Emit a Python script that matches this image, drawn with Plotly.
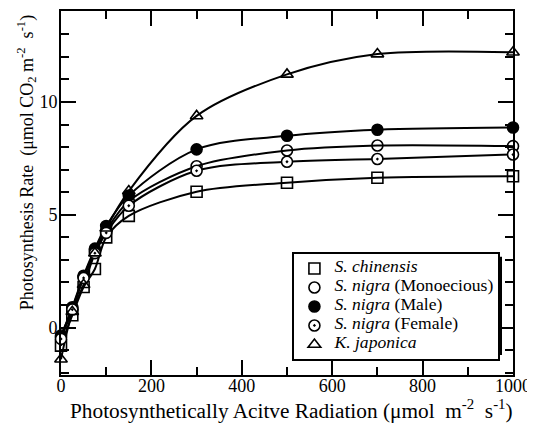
import plotly.graph_objects as go

# ---- data ----
par = [0, 25, 50, 75, 100, 150, 300, 500, 700, 1000]
s_chinensis = [-0.8, 0.55, 1.8, 2.6, 4.0, 4.95, 6.02, 6.42, 6.64, 6.71]
s_nigra_mono = [-0.35, 0.85, 2.25, 3.4, 4.3, 5.6, 7.15, 7.85, 8.07, 8.04]
s_nigra_male = [-0.4, 0.9, 2.3, 3.5, 4.5, 5.85, 7.9, 8.5, 8.77, 8.87]
s_nigra_female = [-0.5, 0.8, 2.2, 3.3, 4.2, 5.4, 6.95, 7.35, 7.47, 7.67]
k_japonica = [-1.4, 0.7, 1.9, 3.3, 4.4, 6.05, 9.38, 11.22, 12.12, 12.2]

series_names = [
    "<i>S. chinensis</i>",
    "<i>S. nigra</i> (Monoecious)",
    "<i>S. nigra</i> (Male)",
    "<i>S. nigra</i> (Female)",
    "<i>K. japonica</i>",
]
series_values = [s_chinensis, s_nigra_mono, s_nigra_male, s_nigra_female, k_japonica]
symbols = ["square-open", "circle-open", "circle", "circle-dot", "triangle-up-open"]
fills = ["black", "black", "black", "white", "black"]

FONT = "Liberation Serif, Times New Roman, Times, serif"
fig = go.Figure()

# smooth curves (no legend entry)
for vals in series_values:
    fig.add_trace(go.Scatter(
        x=par, y=vals, mode="lines", showlegend=False, hoverinfo="skip",
        line=dict(color="black", width=2, shape="spline", smoothing=0.9),
    ))

# measured points (legend entries)
for name, vals, sym, fc in zip(series_names, series_values, symbols, fills):
    fig.add_trace(go.Scatter(
        x=par, y=vals, mode="markers",
        name='<span style="font-size:17.6px">' + name + "</span>",
        marker=dict(symbol=sym, size=11, color=fc,
                    line=dict(color="black", width=1.6)),
        cliponaxis=False,
    ))

axis_common = dict(
    showline=True, linecolor="black", linewidth=2, mirror="ticks",
    ticks="inside", tickcolor="black", tickwidth=1.5, ticklen=15,
    showgrid=False, zeroline=False,
    tickfont=dict(family=FONT, size=18, color="black"),
)

fig.update_xaxes(
    range=[0, 1000], tick0=0, dtick=200,
    minor=dict(dtick=100, ticks="inside", ticklen=8, tickcolor="black", tickwidth=1.5, showgrid=False),
    ticklabelstandoff=-7,
    **axis_common,
)
fig.update_yaxes(
    range=[-2.1, 14.03], tick0=0, dtick=5,
    minor=dict(dtick=1, ticks="inside", ticklen=8, tickcolor="black", tickwidth=1.5, showgrid=False),
    ticklabelstandoff=-2,
    **axis_common,
)

fig.add_annotation(
    text="Photosynthesis Rate  (μmol CO<sub>2</sub> m<sup>-2</sup>  s<sup>-1</sup>)",
    xref="paper", yref="paper", x=-0.077, y=0.582,
    xanchor="center", yanchor="middle", textangle=-90, showarrow=False,
    font=dict(family=FONT, size=18, color="black"),
)
fig.add_annotation(
    text="Photosynthetically Acitve Radiation (μmol  m<sup>-2</sup>  s<sup>-1</sup>)",
    xref="paper", yref="paper", x=0.509, y=-0.096,
    xanchor="center", yanchor="middle", showarrow=False,
    font=dict(family=FONT, size=21.3, color="black"),
)

# drop shadow of the legend box (offset right/down)
fig.add_shape(
    type="rect", xref="paper", yref="paper", layer="above",
    x0=(295 - 61) / 452, x1=(502 - 61) / 452,
    y0=(375 - 355) / 366, y1=(375 - 256) / 366,
    fillcolor="black", line=dict(width=0),
)

# page body has an 8px default margin: size the figure so that it fits the window
fig.update_layout(
    width=527, height=422,
    margin=dict(l=53, r=22, t=1, b=55),
    paper_bgcolor="white", plot_bgcolor="white",
    font=dict(family=FONT, color="black"),
    showlegend=True,
    legend=dict(
        x=0.512, y=0.338, xanchor="left", yanchor="top",
        bgcolor="white", bordercolor="black", borderwidth=2,
        font=dict(family=FONT, size=10, color="black"),
        tracegroupgap=0,
    ),
)

fig.write_html("out.html")
